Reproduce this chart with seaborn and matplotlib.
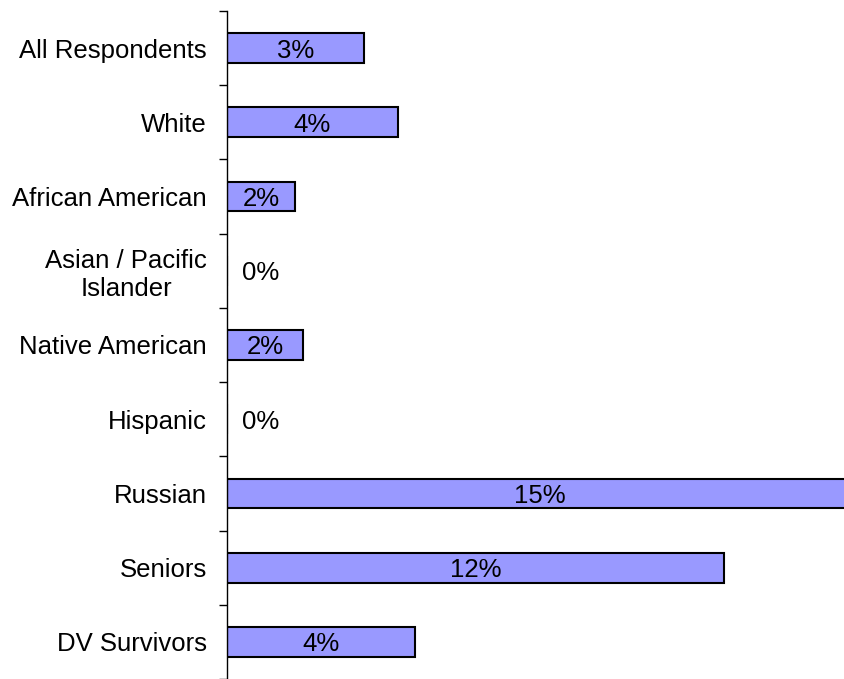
import matplotlib
matplotlib.use("Agg")
import matplotlib.pyplot as plt
import seaborn as sns
import pandas as pd
import numpy as np

# Data
groups = ["All Respondents", "White", "African American",
          "Asian / Pacific\nIslander", "Native American", "Hispanic",
          "Russian", "Seniors", "DV Survivors"]
values = [3.22, 4.02, 1.6, 0.0, 1.79, 0.0, 14.73, 11.69, 4.42]
labels = ["3%", "4%", "2%", "0%", "2%", "0%", "15%", "12%", "4%"]

df = pd.DataFrame({"group": groups, "value": values})

sns.set_style("white")
plt.rcParams["font.family"] = ["Liberation Sans", "DejaVu Sans"]
plt.rcParams["text.color"] = "black"
plt.rcParams["ytick.color"] = "black"

fig = plt.figure(figsize=(8.45, 6.79), dpi=100)
# axes runs a little past the right edge so the Russian bar is cut off
ax = fig.add_axes([227 / 845, 0.0, (860 - 227) / 845, 1 - 11 / 679])

sns.barplot(data=df, y="group", x="value", orient="h", color="#9999FF",
            saturation=1, edgecolor="black", linewidth=1.5, width=0.4, ax=ax)

# Value labels centred in bars
for i, (v, lab) in enumerate(zip(values, labels)):
    if v > 0:
        ax.text(v / 2, i, lab, ha="center", va="center_baseline",
                fontsize=18.5, color="black")
    else:
        ax.annotate(lab, (0, i), xytext=(11, 0), textcoords="offset points",
                    ha="left", va="center_baseline", fontsize=18.5,
                    color="black")

ax.set_xlim(0, 633 / 42.5)
ax.set_ylim(len(groups) - 0.5, -0.5)

# Tick marks at category boundaries, labels at category centres
ax.set_yticks(np.arange(len(groups) + 1) - 0.5)
ax.set_yticklabels([])
ax.tick_params(axis="y", which="major", left=True, length=6, width=1, color="black")
ax.set_yticks(np.arange(len(groups)), minor=True)
ax.set_yticklabels(groups, minor=True, fontsize=18.5, color="black")
ax.tick_params(axis="y", which="minor", left=True, length=0, pad=14.5)
for t in ax.get_yticklabels(minor=True):
    t.set_multialignment("center")

ax.set_xticks([])
ax.set_xlabel("")
ax.set_ylabel("")
for s in ["top", "right", "bottom"]:
    ax.spines[s].set_visible(False)
ax.spines["left"].set_color("black")
ax.spines["left"].set_linewidth(1)

fig.savefig("out.png", dpi=100)
